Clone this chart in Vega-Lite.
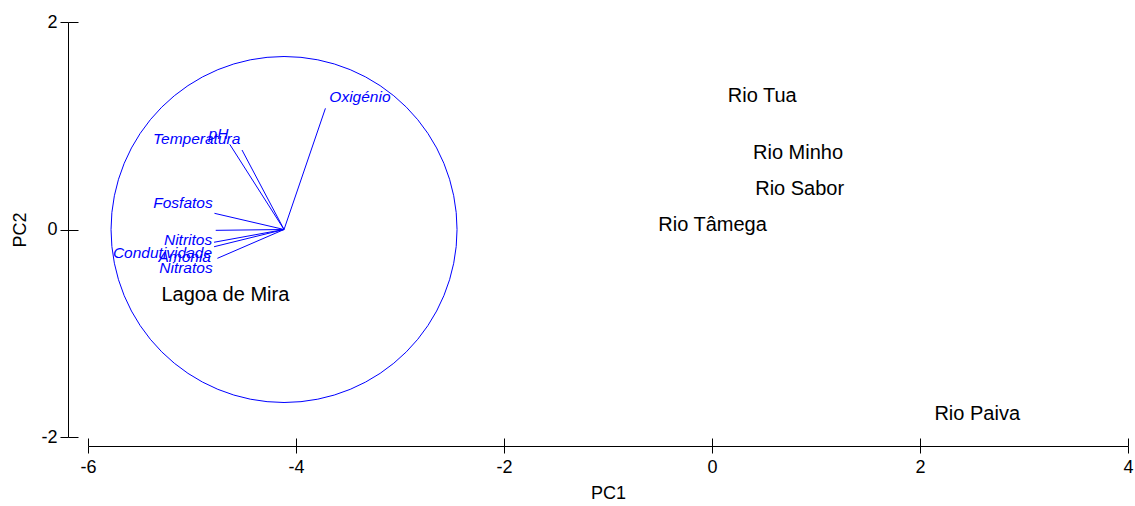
{
  "$schema": "https://vega.github.io/schema/vega-lite/v6.json",
  "autosize": {"type": "none"},
  "padding": {"left": 88, "top": 22, "right": 7, "bottom": 69},
  "width": 1040,
  "height": 415,
  "background": "white",
  "config": {
    "view": {"stroke": null},
    "font": "Liberation Sans",
    "axis": {
      "grid": false,
      "domainColor": "#000000",
      "tickColor": "#000000",
      "domainWidth": 1,
      "tickWidth": 1,
      "labelColor": "#000000",
      "titleColor": "#000000",
      "labelFont": "Liberation Sans",
      "titleFont": "Liberation Sans",
      "labelFontSize": 18,
      "titleFontSize": 18,
      "titleFontWeight": "normal"
    }
  },
  "datasets": {
    "centre": [{"pc1": -4.115, "pc2": 0}],
    "loadings": [
      {"variable": "Oxigénio", "from1": -4.115, "from2": 0, "pc1": -3.717, "pc2": 1.168, "lab1": -3.385, "lab2": 1.275},
      {"variable": "Temperatura", "from1": -4.115, "from2": 0, "pc1": -4.637, "pc2": 0.821, "lab1": -4.955, "lab2": 0.870},
      {"variable": "pH", "from1": -4.115, "from2": 0, "pc1": -4.519, "pc2": 0.766, "lab1": -4.745, "lab2": 0.922},
      {"variable": "Fosfatos", "from1": -4.115, "from2": 0, "pc1": -4.784, "pc2": 0.156, "lab1": -5.087, "lab2": 0.257},
      {"variable": "Nitritos", "from1": -4.115, "from2": 0, "pc1": -4.772, "pc2": -0.008, "lab1": -5.038, "lab2": -0.102},
      {"variable": "Condutividade", "from1": -4.115, "from2": 0, "pc1": -4.788, "pc2": -0.123, "lab1": -5.284, "lab2": -0.222},
      {"variable": "Amónia", "from1": -4.115, "from2": 0, "pc1": -4.788, "pc2": -0.166, "lab1": -5.07, "lab2": -0.267},
      {"variable": "Nitratos", "from1": -4.115, "from2": 0, "pc1": -4.756, "pc2": -0.278, "lab1": -5.058, "lab2": -0.374}
    ],
    "scores": [
      {"site": "Rio Tua", "pc1": 0.483, "pc2": 1.284},
      {"site": "Rio Minho", "pc1": 0.827, "pc2": 0.742},
      {"site": "Rio Sabor", "pc1": 0.843, "pc2": 0.388},
      {"site": "Rio Tâmega", "pc1": 0.005, "pc2": 0.043},
      {"site": "Lagoa de Mira", "pc1": -4.679, "pc2": -0.636},
      {"site": "Rio Paiva", "pc1": 2.55, "pc2": -1.778}
    ]
  },
  "resolve": {"axis": {"x": "independent", "y": "independent"}},
  "layer": [
    {
      "data": {"name": "centre"},
      "mark": {"type": "point", "shape": "circle", "filled": false, "size": 119716, "stroke": "#0000FF", "strokeWidth": 1, "opacity": 1},
      "encoding": {
        "x": {
          "field": "pc1", "type": "quantitative",
          "scale": {"domain": [-6, 4], "nice": false, "zero": false},
          "axis": {"orient": "bottom", "offset": 9, "tickSize": 7, "values": [-6, -4, -2, 0, 2, 4], "labelExpr": "'' + datum.value", "labelPadding": 5, "title": "PC1", "titlePadding": 8, "labelFlush": false}
        },
        "y": {
          "field": "pc2", "type": "quantitative",
          "scale": {"domain": [-2, 2], "nice": false, "zero": false},
          "axis": {"orient": "left", "offset": 20, "tickSize": 8, "values": [-2, 0, 2], "labelExpr": "'' + datum.value", "labelPadding": 3, "title": "PC2", "titlePadding": 11, "labelFlush": false}
        }
      }
    },
    {
      "data": {"name": "loadings"},
      "mark": {"type": "rule", "color": "#0000FF", "strokeWidth": 1},
      "encoding": {
        "x": {"field": "from1", "type": "quantitative", "axis": null},
        "y": {"field": "from2", "type": "quantitative", "axis": null},
        "x2": {"field": "pc1"},
        "y2": {"field": "pc2"}
      }
    },
    {
      "data": {"name": "loadings"},
      "mark": {"type": "text", "color": "#0000FF", "fontStyle": "italic", "fontSize": 15.5, "align": "center", "baseline": "middle", "font": "Liberation Sans"},
      "encoding": {
        "x": {"field": "lab1", "type": "quantitative", "axis": null},
        "y": {"field": "lab2", "type": "quantitative", "axis": null},
        "text": {"field": "variable"}
      }
    },
    {
      "data": {"name": "scores"},
      "mark": {"type": "text", "color": "#000000", "fontSize": 20, "align": "center", "baseline": "middle", "font": "Liberation Sans"},
      "encoding": {
        "x": {
          "field": "pc1", "type": "quantitative",
          "axis": {"orient": "bottom", "offset": 1, "tickSize": 8, "values": [-6, -4, -2, 0, 2, 4], "domain": false, "labels": false, "title": null}
        },
        "y": {
          "field": "pc2", "type": "quantitative",
          "axis": {"orient": "left", "offset": 10, "tickSize": 10, "values": [-2, 0, 2], "domain": false, "labels": false, "title": null}
        },
        "text": {"field": "site"}
      }
    }
  ]
}
